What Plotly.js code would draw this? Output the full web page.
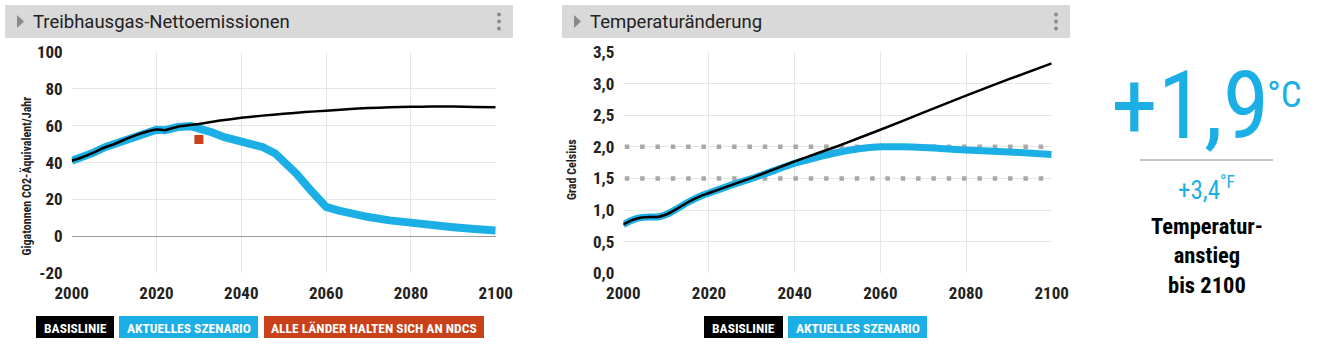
<!DOCTYPE html>
<html><head><meta charset="utf-8">
<script src="https://cdn.plot.ly/plotly-3.0.1.min.js"></script>
<style>html,body{margin:0;padding:0;background:#fff;overflow:hidden}#chart{width:1325px;height:348px}</style>
</head><body><div id="chart"></div>
<script>
// ---------- DATA ----------
const emYearsBase = [2000,2002,2005,2008,2010,2013,2015,2018,2020,2022,2025,2030,2035,2040,2045,2050,2055,2060,2065,2070,2075,2080,2085,2090,2095,2100];
const emBase      = [41,42.5,45.3,48.5,50,53,54.8,57,58,57.6,59.5,61,62.8,64.3,65.5,66.5,67.4,68.2,69,69.6,70,70.3,70.4,70.4,70.2,70];
const emYearsCur  = [2000,2002,2005,2008,2010,2013,2015,2018,2020,2022,2025,2028,2030,2033,2036,2040,2043,2045,2048,2050,2053,2056,2060,2063,2066,2070,2075,2080,2085,2090,2095,2100];
const emCur       = [41,42.5,45.3,48.5,50,53,54.8,57,57.8,57.6,59.3,59.8,58.7,56.5,53.8,51,49.5,48.5,45,41,34,26,16,14,12.3,10.5,8.7,7.2,6,5,4,3.2];
const ndcYears    = [2030];
const ndcValues   = [52.5];
const emTickVals  = [-20,0,20,40,60,80,100];
const emTickText  = ["-20","0","20","40","60","80","100"];

const tYears      = [2000,2002,2004,2006,2008,2010,2012,2015,2018,2020,2025,2030,2035,2040,2045,2050,2055,2060,2070,2080,2090,2100];
const tBase       = [0.77,0.84,0.88,0.89,0.89,0.93,1.0,1.12,1.22,1.27,1.39,1.51,1.64,1.77,1.89,2.01,2.14,2.27,2.54,2.81,3.07,3.32];
const tYearsCur   = [2000,2002,2004,2006,2008,2010,2012,2015,2018,2020,2025,2030,2035,2040,2045,2050,2055,2060,2065,2070,2075,2080,2090,2100];
const tCur        = [0.77,0.84,0.88,0.89,0.89,0.93,1.0,1.12,1.22,1.27,1.39,1.50,1.62,1.74,1.83,1.91,1.97,2.0,2.0,1.99,1.97,1.95,1.92,1.88];
const tRefLevels  = [2.0, 1.5];
const xTickVals   = [2000,2020,2040,2060,2080,2100];

const titleLeft   = "Treibhausgas-Nettoemissionen";
const titleRight  = "Temperaturänderung";
const yTitleLeft  = "Gigatonnen CO2-Äquivalent/Jahr";
const yTitleRight = "Grad Celsius";
const legLeft     = ["BASISLINIE","AKTUELLES SZENARIO","ALLE LÄNDER HALTEN SICH AN NDCS"];
const legRight    = ["BASISLINIE","AKTUELLES SZENARIO"];
const bigValue    = "+1,9";
const bigUnit     = "°C";
const subValue    = "+3,4";
const subUnit     = "°F";
const caption     = "Temperatur-<br>anstieg<br>bis 2100";

// ---------- STYLE ----------
const W = 1325, H = 348;
const px = x => x / W, py = y => 1 - y / H;
const CYAN = "#1cafe5", RED = "#c8411b", BLACK = "#000000", HEAD = "#d9d9d9";
const NARROW = '"Liberation Sans Narrow", "Roboto Condensed", Roboto, sans-serif';
const ROBOTO = 'Roboto, "Open Sans", sans-serif';

const traces = [
  {x: emYearsCur, y: emCur, xaxis:'x', yaxis:'y', mode:'lines', line:{color:CYAN, width:8}},
  {x: emYearsBase, y: emBase, xaxis:'x', yaxis:'y', mode:'lines', line:{color:BLACK, width:2.5, shape:'spline', smoothing:0.6}},
  {x: ndcYears, y: ndcValues, xaxis:'x', yaxis:'y', mode:'markers', marker:{color:RED, size:9, symbol:'square'}},
  {x: tYearsCur, y: tCur, xaxis:'x2', yaxis:'y2', mode:'lines', line:{color:CYAN, width:7, shape:'spline', smoothing:0.6}},
  {x: tYears, y: tBase, xaxis:'x2', yaxis:'y2', mode:'lines', line:{color:BLACK, width:2.5, shape:'spline', smoothing:0.6}}
];

const tickFont = {family: NARROW, size: 17, color: '#222', weight: 700};
const xBase = {range:[2000,2100], tickvals:xTickVals, showgrid:true, gridcolor:'#e6e6e6', gridwidth:1,
  zeroline:false, showline:false, ticks:'', tickfont:tickFont, ticklabelstandoff:8, fixedrange:true};
const yDomain = [1 - 273.3/H, 1 - 52/H];

const layout = {
  width: W, height: H, margin:{l:0,r:0,t:0,b:0}, paper_bgcolor:'#fff', plot_bgcolor:'#fff',
  showlegend:false, separators:',.',
  xaxis: Object.assign({}, xBase, {domain:[px(71.7), px(495.7)], anchor:'y'}),
  yaxis: {domain:yDomain, anchor:'x', range:[-20,100], tickvals:emTickVals, ticktext:emTickText,
    showgrid:true, gridcolor:'#e6e6e6', zeroline:true, zerolinecolor:'#9a9a9a', zerolinewidth:1,
    ticks:'', tickfont:tickFont, ticklabelstandoff:8, fixedrange:true},
  xaxis2: Object.assign({}, xBase, {domain:[px(623.3), px(1051.7)], anchor:'y2'}),
  yaxis2: {domain:yDomain, anchor:'x2', range:[0,3.5], dtick:0.5, tickformat:'.1f',
    showgrid:true, gridcolor:'#e6e6e6', zeroline:false, ticks:'', tickfont:tickFont, ticklabelstandoff:8, fixedrange:true},
  shapes: [],
  annotations: []
};

// header bars
function header(x0, x1, title) {
  layout.shapes.push({type:'rect', xref:'paper', yref:'paper', x0:px(x0), x1:px(x1), y0:py(38), y1:py(5), fillcolor:HEAD, line:{width:0}, layer:'below'});
  const tx = x0 + 12;
  layout.shapes.push({type:'path', xref:'paper', yref:'paper',
    path:`M ${px(tx)} ${py(15)} L ${px(tx+7)} ${py(21.5)} L ${px(tx)} ${py(28)} Z`, fillcolor:'#8a8a8a', line:{width:0}});
  [14.5, 21.5, 28.5].forEach(y => layout.shapes.push({type:'circle', xref:'paper', yref:'paper',
    x0:px(x1-16), x1:px(x1-12), y0:py(y+2), y1:py(y-2), fillcolor:'#8a8a8a', line:{width:0}}));
  layout.annotations.push({xref:'paper', yref:'paper', x:px(x0+26), y:py(21.5), xanchor:'left', yanchor:'middle',
    text:title, showarrow:false, font:{family:ROBOTO, size:18.5, color:'#222'}});
}
header(5, 513, titleLeft);
header(562, 1070, titleRight);

// y titles
layout.annotations.push({xref:'paper', yref:'paper', x:px(16), y:py(176), textangle:-90, showarrow:false,
  text:yTitleLeft, font:{family:NARROW, size:12, color:'#222', weight:700}});
layout.annotations.push({xref:'paper', yref:'paper', x:px(572), y:py(170), textangle:-90, showarrow:false,
  text:yTitleRight, font:{family:NARROW, size:12, color:'#222', weight:700}});

// reference dotted lines (between grid and curves)
tRefLevels.forEach(v => layout.shapes.push({type:'line', xref:'x2', yref:'y2', x0:2000.35, x1:2100, y0:v, y1:v,
  line:{color:'#a8a8a8', width:4.5, dash:'4.5px,10.83px'}, layer:'between'}));

// legend boxes
function legBox(x0, x1, label, color) {
  layout.shapes.push({type:'rect', xref:'paper', yref:'paper', x0:px(x0), x1:px(x1), y0:py(338), y1:py(316), fillcolor:color, line:{width:0}});
  layout.annotations.push({xref:'paper', yref:'paper', x:px((x0+x1)/2), y:py(327.5), xanchor:'center', yanchor:'middle',
    text:label, showarrow:false, font:{family:NARROW, size:13.5, color:'#fff', weight:700}});
}
legBox(36, 114, legLeft[0], BLACK);
legBox(119, 258, legLeft[1], CYAN);
legBox(264, 484, legLeft[2], RED);
legBox(704, 783, legRight[0], BLACK);
legBox(788, 927, legRight[1], CYAN);

// big number panel
layout.annotations.push({xref:'paper', yref:'paper', x:px(1190), y:py(106), xanchor:'center', yanchor:'middle',
  text:bigValue, showarrow:false, font:{family:NARROW, size:94, color:CYAN}});
layout.annotations.push({xref:'paper', yref:'paper', x:px(1284), y:py(94), xanchor:'center', yanchor:'middle',
  text:bigUnit, showarrow:false, font:{family:NARROW, size:37, color:CYAN}});
layout.shapes.push({type:'line', xref:'paper', yref:'paper', x0:px(1140), x1:px(1273), y0:py(160), y1:py(160), line:{color:'#8a8a8a', width:1}});
layout.annotations.push({xref:'paper', yref:'paper', x:px(1206), y:py(188), xanchor:'center', yanchor:'middle',
  text:subValue + '<sup>' + subUnit + '</sup>', showarrow:false, font:{family:NARROW, size:25, color:CYAN}});
layout.annotations.push({xref:'paper', yref:'paper', x:px(1207), y:py(255), xanchor:'center', yanchor:'middle',
  text:caption, showarrow:false, font:{family:NARROW, size:22.5, color:'#000', weight:700}});

Plotly.newPlot('chart', traces, layout, {staticPlot:true, displayModeBar:false});
</script></body></html>
